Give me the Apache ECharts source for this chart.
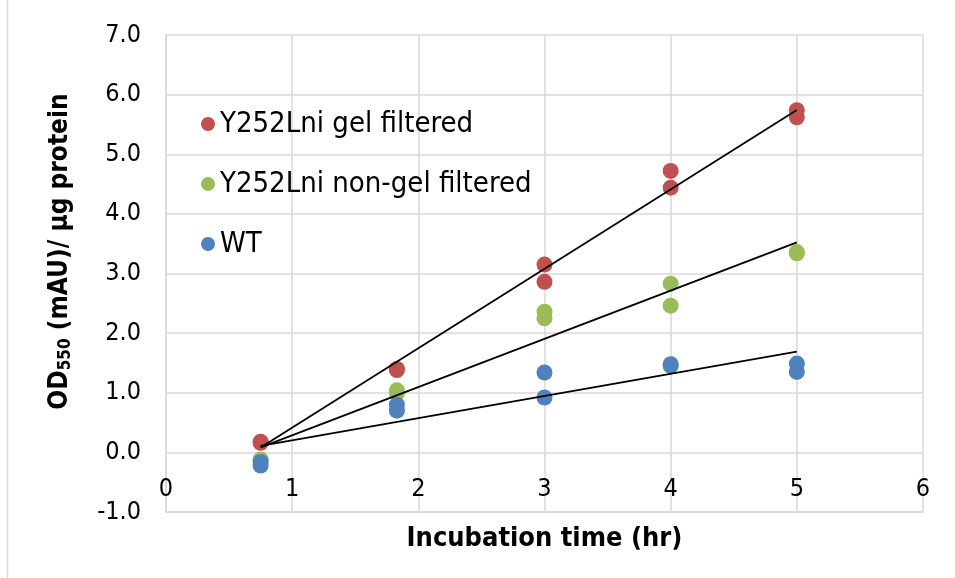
<!DOCTYPE html>
<html>
<head>
<meta charset="utf-8">
<script src="https://cdn.jsdelivr.net/npm/echarts@6/dist/echarts.min.js"></script>
<style>
  html, body { margin: 0; padding: 0; background: #ffffff; }
  #chart { width: 955px; height: 578px; }
</style>
</head>
<body>
<div id="chart"></div>
<script>
// Incubation times (hr) of each replicate measurement
const gelX    = [0.75, 0.75, 1.83, 1.83, 3, 3, 4, 4, 5, 5];
const nonGelX = [0.75, 0.75, 1.83, 1.83, 3, 3, 4, 4, 5, 5];
const wtX     = [0.75, 0.75, 1.83, 1.83, 3, 3, 4, 4, 5, 5];

// OD550 (mAU) per µg protein
const gelY    = [0.18, 0.16, 1.40, 1.38, 3.15, 2.86, 4.72, 4.44, 5.74, 5.62];
const nonGelY = [-0.12, -0.14, 1.04, 0.99, 2.36, 2.25, 2.83, 2.46, 3.36, 3.34];
const wtY     = [-0.16, -0.22, 0.80, 0.70, 1.34, 0.92, 1.48, 1.45, 1.49, 1.35];

const seriesNames = ['Y252Lni gel filtered', 'Y252Lni non-gel filtered', 'WT'];
const colors = ['#C0504D', '#9BBB59', '#4F81BD'];

const yTicks = [-1, 0, 1, 2, 3, 4, 5, 6, 7];
const xTicks = [0, 1, 2, 3, 4, 5, 6];

const FONT = '"DejaVu Sans Condensed", "DejaVu Sans", sans-serif';

function pairs(xs, ys) { return xs.map((x, i) => [x, ys[i]]); }

// Least-squares linear trend, drawn across the measured time range
function trend(xs, ys) {
  const n = xs.length;
  const mx = xs.reduce((a, b) => a + b, 0) / n;
  const my = ys.reduce((a, b) => a + b, 0) / n;
  let sxy = 0, sxx = 0;
  for (let i = 0; i < n; i++) {
    sxy += (xs[i] - mx) * (ys[i] - my);
    sxx += (xs[i] - mx) * (xs[i] - mx);
  }
  const k = sxy / sxx, b = my - k * mx;
  const x0 = Math.min(...xs), x1 = Math.max(...xs);
  return [[x0, k * x0 + b], [x1, k * x1 + b]];
}

const groups = [[gelX, gelY], [nonGelX, nonGelY], [wtX, wtY]];

const scatterSeries = groups.map((g, i) => ({
  name: seriesNames[i],
  type: 'scatter',
  data: pairs(g[0], g[1]),
  symbol: 'circle',
  symbolSize: 16,
  itemStyle: { color: colors[i], opacity: 1 },
  z: 2 + i
}));

const trendSeries = groups.map((g, i) => ({
  name: 'trend' + i,
  type: 'line',
  data: trend(g[0], g[1]),
  showSymbol: false,
  symbol: 'none',
  lineStyle: { color: '#000000', width: 1.8 },
  silent: true,
  z: 10
}));

const chart = echarts.init(document.getElementById('chart'), null, { renderer: 'canvas' });
chart.setOption({
  animation: false,
  backgroundColor: '#ffffff',
  textStyle: { fontFamily: FONT },
  grid: { left: 166, right: 32, top: 35, bottom: 66, containLabel: false, outerBoundsMode: 'none' },
  legend: {
    data: seriesNames,
    orient: 'vertical',
    left: 196,
    top: 104,
    icon: 'circle',
    itemWidth: 14,
    itemHeight: 14,
    itemGap: 30,
    textStyle: { fontFamily: FONT, fontSize: 29, color: '#000000', lineHeight: 30 }
  },
  xAxis: {
    type: 'value',
    min: xTicks[0],
    max: xTicks[xTicks.length - 1],
    interval: 1,
    position: 'bottom',
    axisLine: { onZero: false, lineStyle: { color: '#d9d9d9', width: 1.5 } },
    axisTick: { show: false },
    // tick labels sit between the zero line and the -1.0 gridline
    axisLabel: { inside: true, fontFamily: FONT, fontSize: 25, color: '#000000', margin: 10 },
    splitLine: { show: true, lineStyle: { color: '#d9d9d9', width: 1.5 } },
    name: 'Incubation time (hr)',
    nameLocation: 'middle',
    nameGap: 13,
    nameTextStyle: { fontFamily: FONT, fontSize: 27, fontWeight: 'bold', color: '#000000' }
  },
  yAxis: {
    type: 'value',
    min: yTicks[0],
    max: yTicks[yTicks.length - 1],
    interval: 1,
    axisLine: { show: true, onZero: false, lineStyle: { color: '#d9d9d9', width: 1.5 } },
    axisTick: { show: false },
    axisLabel: {
      fontFamily: FONT, fontSize: 25, color: '#000000', margin: 25,
      formatter: v => v.toFixed(1)
    },
    splitLine: { show: true, lineStyle: { color: '#d9d9d9', width: 1.5 } },
    name: '{b|OD}{s|550}{b| (mAU)/ µg protein}',
    nameLocation: 'middle',
    nameGap: 92,
    nameRotate: 90,
    nameTextStyle: {
      color: '#000000',
      padding: [0, 0, 0, 44],
      rich: {
        b: { fontFamily: FONT, fontSize: 26, fontWeight: 'bold', color: '#000000' },
        s: { fontFamily: FONT, fontSize: 17, fontWeight: 'bold', color: '#000000', verticalAlign: 'bottom', padding: [10, 0, 0, 0] }
      }
    }
  },
  graphic: [{
    type: 'line',
    shape: { x1: 7.5, y1: 0, x2: 7.5, y2: 578 },
    style: { stroke: '#d9d9d9', lineWidth: 1.5 },
    silent: true
  }],
  series: scatterSeries.concat(trendSeries)
});
</script>
</body>
</html>
